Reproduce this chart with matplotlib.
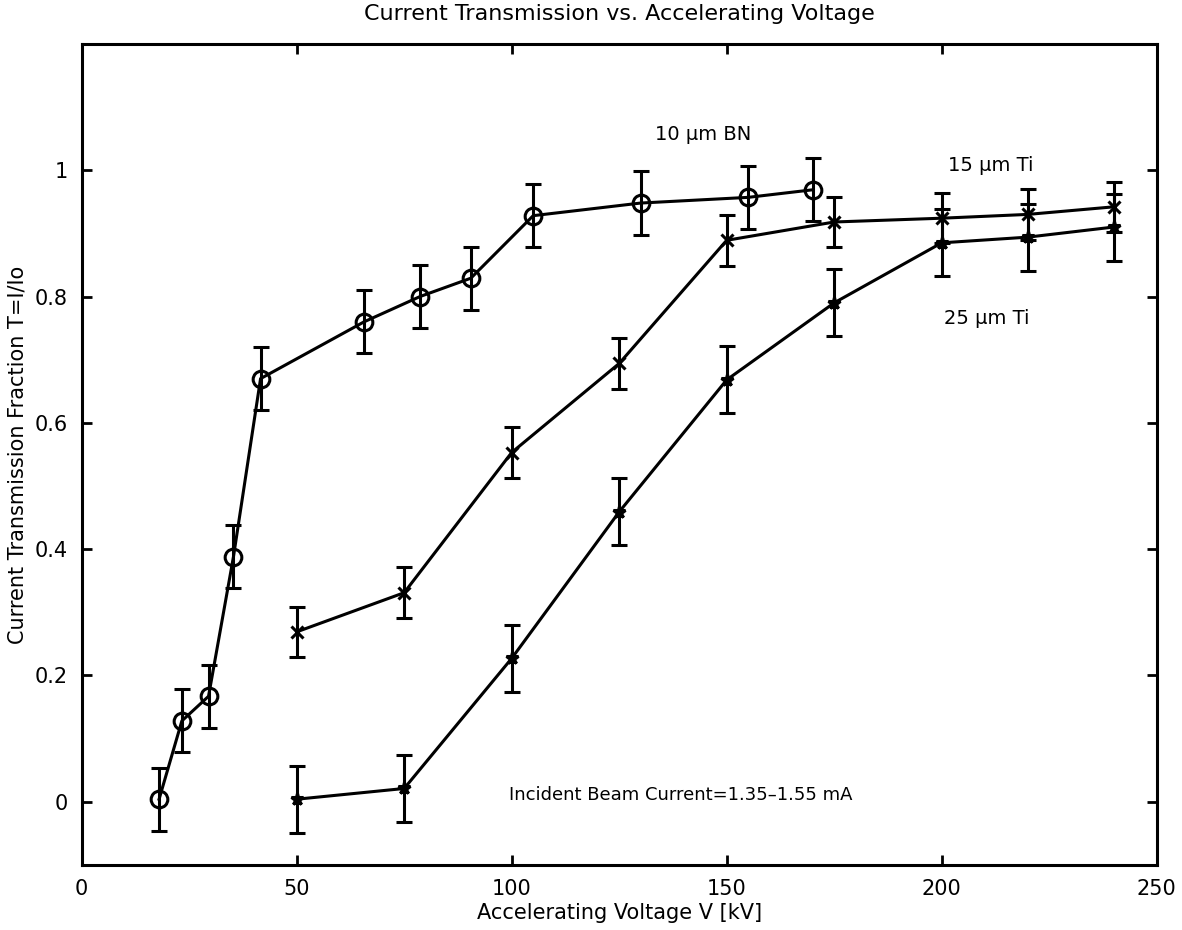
import numpy as np
import matplotlib
matplotlib.use("Agg")
import matplotlib.pyplot as plt

plt.rcParams['font.family'] = ['DejaVu Sans']

# 10 um BN foil
BN_KV = [18, 23.3, 29.5, 35.3, 41.6, 65.7, 78.7, 90.5, 105, 130, 155, 170]
BN_T = [0.004, 0.128, 0.167, 0.388, 0.670, 0.760, 0.800, 0.829, 0.928, 0.948, 0.957, 0.969]
BN_ERR = 0.05

# 15 um Ti foil
TI15_KV = [50, 75, 100, 125, 150, 175, 200, 220, 240]
TI15_T = [0.269, 0.331, 0.553, 0.694, 0.889, 0.918, 0.924, 0.930, 0.942]
TI15_ERR = 0.04

# 25 um Ti foil
TI25_KV = [50, 75, 100, 125, 150, 175, 200, 220, 240]
TI25_T = [0.004, 0.021, 0.227, 0.459, 0.668, 0.790, 0.885, 0.894, 0.910]
TI25_ERR = 0.053

X_TICKS = [0, 50, 100, 150, 200, 250]
Y_TICKS = [0, 0.2, 0.4, 0.6, 0.8, 1.0]
Y_TICK_LABELS = ['0', '0.2', '0.4', '0.6', '0.8', '1']

FS = 15


def main():
    fig = plt.figure(figsize=(11.82, 9.30), dpi=100)
    ax = fig.add_axes([0.0691, 0.070, 0.9095, 0.8828])

    common = dict(color='black', ecolor='black', linewidth=2.2, elinewidth=2.2,
                  capsize=5.5, capthick=2.2)
    ax.errorbar(BN_KV, BN_T, yerr=BN_ERR, marker='o', markersize=12,
                markerfacecolor='none', markeredgewidth=2.2, **common)
    ax.errorbar(TI15_KV, TI15_T, yerr=TI15_ERR, marker='x', markersize=8,
                markeredgewidth=2.2, **common)
    ax.errorbar(TI25_KV, TI25_T, yerr=TI25_ERR, marker='*', markersize=9,
                markeredgewidth=2.2, **common)

    ax.text(133.3, 1.057, '10 \u03bcm BN', fontsize=14, va='center', ha='left')
    ax.text(201.5, 1.008, '15 \u03bcm Ti', fontsize=14, va='center', ha='left')
    ax.text(200.6, 0.765, '25 \u03bcm Ti', fontsize=14, va='center', ha='left')
    ax.text(99.4, 0.01, 'Incident Beam Current=1.35\u20131.55 mA', fontsize=13,
            va='center', ha='left')

    ax.set_xlim(0, 250)
    ax.set_ylim(-0.1, 1.2)
    ax.set_xticks(X_TICKS)
    ax.set_yticks(Y_TICKS)
    ax.set_yticklabels(Y_TICK_LABELS)
    ax.tick_params(direction='in', length=7, width=2, labelsize=FS,
                   top=True, right=True, pad=10)
    for sp in ax.spines.values():
        sp.set_linewidth(2.2)

    ax.set_title('Current Transmission vs. Accelerating Voltage', fontsize=16, pad=17)
    ax.set_xlabel('Accelerating Voltage V [kV]', fontsize=FS, labelpad=3)
    ax.set_ylabel('Current Transmission Fraction T=I/Io', fontsize=FS, labelpad=5)

    fig.savefig('out.png', dpi=100)


if __name__ == "__main__":
    main()
